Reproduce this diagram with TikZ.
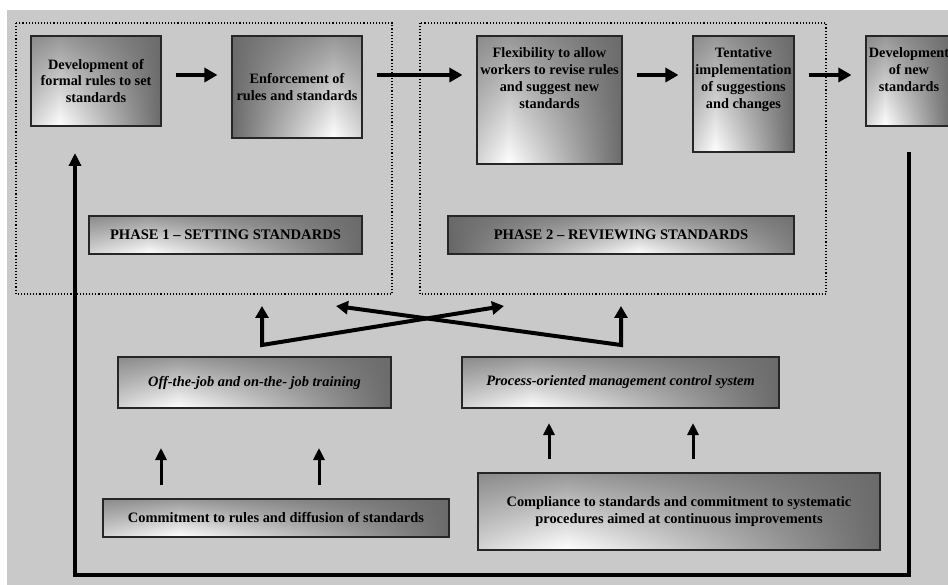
\documentclass[tikz,border=0pt]{standalone}
\usepackage{fontspec}
\setmainfont{Liberation Serif}
\usetikzlibrary{arrows.meta}

% light peak at ~22% of width, darker towards the top
\pgfdeclarefunctionalshading{shL}{\pgfpoint{-25bp}{-25bp}}{\pgfpoint{25bp}{25bp}}{}{
25 add 50 div exch 25 add 50 div
0.22 sub abs 0.75 mul 1 exch sub 0.42 sub
exch 0.7 mul 1 exch sub mul 0.42 add
dup dup
}
% light peak at 78% of width
\pgfdeclarefunctionalshading{shR}{\pgfpoint{-25bp}{-25bp}}{\pgfpoint{25bp}{25bp}}{}{
25 add 50 div exch 25 add 50 div
0.78 sub abs 0.75 mul 1 exch sub 0.42 sub
exch 0.7 mul 1 exch sub mul 0.42 add
dup dup
}
% light peak at 55% of width
\pgfdeclarefunctionalshading{shM}{\pgfpoint{-25bp}{-25bp}}{\pgfpoint{25bp}{25bp}}{}{
25 add 50 div exch 25 add 50 div
0.55 sub abs 1.1 mul 1 exch sub 0.42 sub
exch 0.7 mul 1 exch sub mul 0.42 add
dup dup
}

\definecolor{bg}{RGB}{201,201,201}

\tikzset{
  bx/.style={draw=black!85, line width=1.1pt, shade, shading=shL, inner sep=0pt,
    align=center, font=\bfseries\fontsize{14.3}{16.8}\selectfont},
  phasebox/.style={bx, font=\bfseries\fontsize{14.6}{16}\selectfont},
  lowbox/.style={bx, font=\bfseries\fontsize{14.4}{17}\selectfont},
  itbox/.style={bx, font=\bfseries\itshape\fontsize{14.4}{16}\selectfont},
  frame/.style={draw=black, line width=1.1pt, dotted},
  harrow/.style={line width=4pt, -{Triangle[length=13pt,width=14pt]}, shorten <=14pt, shorten >=14pt},
  uarrow/.style={line width=3pt, -{Triangle[length=12pt,width=11pt]}},
  xarrow/.style={line width=4pt, {Triangle[length=12pt,width=13pt]}-{Triangle[length=12pt,width=13pt]}, line join=miter},
  loopline/.style={line width=3.5pt, -{Triangle[length=13pt,width=12pt]}, line join=miter}
}

\begin{document}
\begin{tikzpicture}[x=1pt,y=-1pt]
\useasboundingbox (0,0) rectangle (948,585);
\fill[bg] (7,10) rectangle (948,585);

% phase frames
\draw[frame] (16,23) rectangle (392,294);
\draw[frame] (420,23) rectangle (826,294);

% top row
\node[bx, minimum width=130pt, minimum height=90pt] (A) at (96,81)
  {Development of\\formal rules to set\\standards};
\node[bx, shading=shR, minimum width=130pt, minimum height=102pt] (B) at (297,87)
  {Enforcement of\\rules and standards};
\node[bx, minimum width=145pt, minimum height=128pt] (C) at (549.5,100)
  {\parbox[c][128pt][t]{145pt}{\centering\vspace*{12pt}Flexibility to allow\\workers to revise rules\\and suggest new\\standards}};
\node[bx, minimum width=101pt, minimum height=116pt] (D) at (743.5,94)
  {\parbox[c][116pt][t]{101pt}{\centering\vspace*{12pt}Tentative\\implementation\\of suggestions\\and changes}};
\node[bx, minimum width=86pt, minimum height=90pt] (E) at (909,81)
  {\parbox[c][90pt][t]{86pt}{\centering\vspace*{12pt}Development\\of new\\standards}};

% phase labels
\node[phasebox, minimum width=273pt, minimum height=38pt] (P1) at (225.5,235)
  {PHASE 1 -- SETTING STANDARDS};
\node[phasebox, shading=shM, minimum width=346pt, minimum height=38pt] (P2) at (621,235)
  {PHASE 2 -- REVIEWING STANDARDS};

% middle row
\node[itbox, minimum width=273pt, minimum height=51pt] (Off) at (254.5,382.5)
  {Off-the-job and on-the- job training};
\node[itbox, minimum width=317pt, minimum height=51pt] (Proc) at (620.5,382.5)
  {Process-oriented management control system};

% bottom row
\node[lowbox, minimum width=346pt, minimum height=38pt] (Com) at (276,518)
  {Commitment to rules and diffusion of standards};
\node[lowbox, minimum width=402pt, minimum height=77pt] (Comp) at (679,511.5)
  {Compliance to standards and commitment to systematic\\procedures aimed at continuous improvements};

% horizontal flow
\coordinate (hy) at (0,75);
\draw[harrow] (A.east |- hy) -- (B.west |- hy);
\draw[harrow] (B.east |- hy) -- (C.west |- hy);
\draw[harrow] (C.east |- hy) -- (D.west |- hy);
\draw[harrow] (D.east |- hy) -- (E.west |- hy);

% crossing arrows
\coordinate (Lt) at (262,306);
\coordinate (Lb) at (262,345);
\coordinate (Rt) at (621,306);
\coordinate (Rb) at (621,345);
\coordinate (Xr) at (504,306);
\coordinate (Xl) at (336,306);
\draw[xarrow] (Lt) -- (Lb) -- (Xr);
\draw[xarrow] (Rt) -- (Rb) -- (Xl);

% up arrows
\draw[uarrow] (Com.north -| 161,0) ++(0,-13) -- (161,448);
\draw[uarrow] (Com.north -| 319,0) ++(0,-13) -- (319,448);
\draw[uarrow] (Comp.north -| 549,0) ++(0,-13) -- (549,423);
\draw[uarrow] (Comp.north -| 693,0) ++(0,-13) -- (693,423);

% feedback loop
\coordinate (Fs) at (909,152);
\coordinate (Fr) at (909,575);
\coordinate (Fl) at (75,575);
\coordinate (Fe) at (75,153);
\draw[loopline] (Fs) -- (Fr) -- (Fl) -- (Fe);
\end{tikzpicture}
\end{document}
